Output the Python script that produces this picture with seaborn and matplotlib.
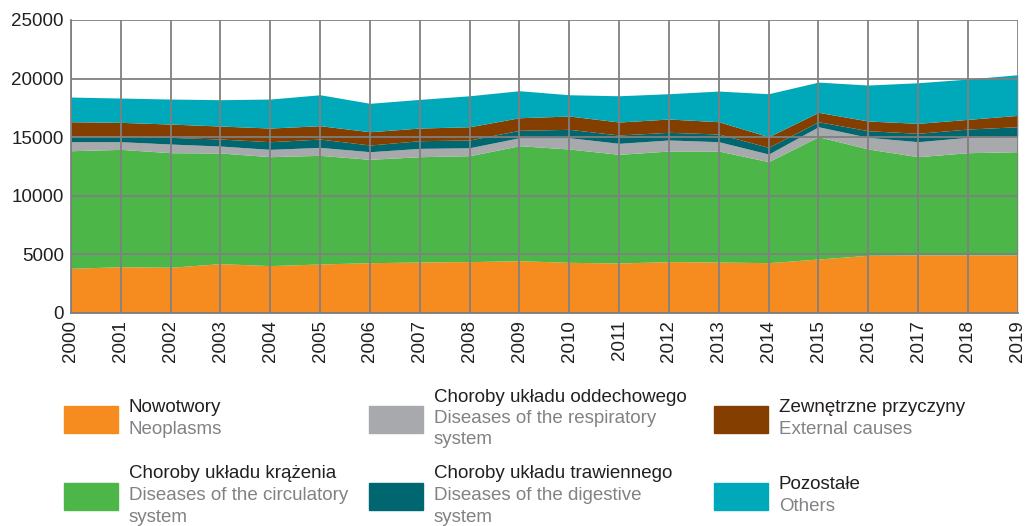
import numpy as np
import seaborn as sns
import matplotlib
matplotlib.use('Agg')
import matplotlib.pyplot as plt
from matplotlib.patches import Rectangle

# data (deaths per year, stacked)
years = list(range(2000, 2020))
neoplasms = [3810, 3950, 3900, 4210, 4040, 4180, 4290, 4350, 4380, 4460,
             4320, 4265, 4380, 4350, 4290, 4605, 4920, 4950, 4950, 4950]
circulatory = [10035, 10010, 9775, 9440, 9295, 9270, 8820, 8985, 9040, 9810,
               9670, 9270, 9440, 9470, 8620, 10435, 9070, 8385, 8725, 8810]
respiratory = [770, 655, 740, 595, 625, 680, 650, 710, 680, 685,
               965, 940, 940, 795, 650, 850, 995, 1280, 1310, 1280]
digestive = [485, 485, 570, 595, 655, 710, 570, 655, 660, 630,
             715, 710, 655, 655, 570, 430, 565, 715, 710, 850]
external = [1220, 1165, 1135, 1110, 1165, 1140, 1135, 1080, 1130, 1075,
            1135, 1110, 1135, 1050, 910, 800, 830, 850, 825, 970]
others = [2105, 2075, 2135, 2250, 2475, 2640, 2425, 2445, 2645, 2305,
          1815, 2240, 2160, 2615, 3670, 2580, 3070, 3465, 3440, 3470]

labels_pl = ['Nowotwory', 'Choroby układu krążenia', 'Choroby układu oddechowego',
             'Choroby układu trawiennego', 'Zewnętrzne przyczyny', 'Pozostałe']
labels_en = ['Neoplasms', 'Diseases of the circulatory\nsystem',
             'Diseases of the respiratory\nsystem', 'Diseases of the digestive\nsystem',
             'External causes', 'Others']
colors = ['#F68B1F', '#4CB748', '#A7A9AC', '#00666F', '#843F00', '#00A9BA']

sns.set_style('white')
plt.rcParams['font.family'] = ['Liberation Sans', 'DejaVu Sans']

fig = plt.figure(figsize=(10.28, 5.26), dpi=100)
ax = fig.add_axes([0.069, 0.405, 0.921, 0.557])

series = np.array([neoplasms, circulatory, respiratory, digestive, external, others])
ax.stackplot(years, series, colors=colors, linewidth=0)

ax.set_xlim(2000, 2019)
ax.set_ylim(0, 25000)
ax.set_xticks(years)
ax.set_xticklabels([str(y) for y in years], rotation=90)
ax.set_yticks(range(0, 25001, 5000))
ax.tick_params(axis='both', length=0, labelsize=13.5, colors='#231F20', pad=5)
ax.set_axisbelow(False)
ax.grid(True, color='#808080', linewidth=1.3)
for side in ['top', 'right']:
    ax.spines[side].set_visible(False)
for side in ['left', 'bottom']:
    ax.spines[side].set_color('#808080')
    ax.spines[side].set_linewidth(1.3)

# legend built by hand: two-language labels
W, H = 1028, 526
col_x = [64, 369, 714]
row_y = [419.5, 496.5]
line_h = 21.5
for i in range(6):
    c, r = i // 2, i % 2
    px, py = col_x[c], row_y[r]
    fig.patches.append(Rectangle((px / W, 1 - (py + 13.5) / H), 54 / W, 27 / H,
                                 transform=fig.transFigure, color=colors[i]))
    lines = [(labels_pl[i], '#231F20')] + [(t, '#808285') for t in labels_en[i].split('\n')]
    n = len(lines)
    for k, (txt, col) in enumerate(lines):
        yy = py - 1 + (k - (n - 1) / 2) * line_h
        fig.text((px + 65) / W, 1 - yy / H, txt, color=col, fontsize=13.5,
                 va='center', ha='left')

fig.savefig('out.png', dpi=100)
